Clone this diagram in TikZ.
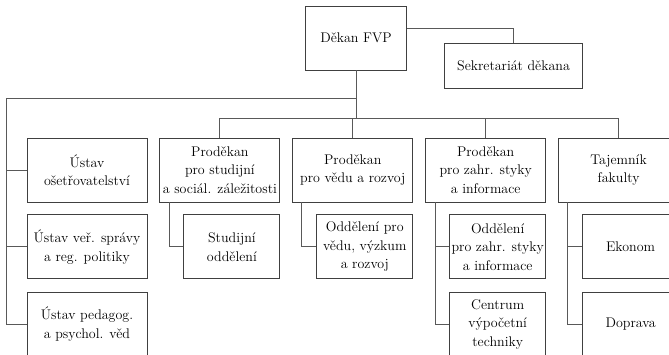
\documentclass[tikz,border=0pt]{standalone}
\usetikzlibrary{positioning}
\tikzset{
    unit/.style = {
        draw = black!75,
        line width = 0.9pt,
        minimum width = 120pt,
        minimum height = 64pt,
        inner sep = 1pt,
        align = center,
        font = \fontsize{14}{18.5}\selectfont,
        },
    subunit/.style = {
        unit,
        minimum width = 96pt,
        },
    link/.style = {
        draw = black!65,
        line width = 0.9pt,
        },
}
\begin{document}
\begin{tikzpicture}[x=1pt, y=-1pt]
            \useasboundingbox (0,0) rectangle (669,355);
            \node[unit, minimum width=101pt] (dekan) at (356,38) {Děkan FVP};
            \node[unit, minimum width=138pt, minimum height=45pt] (sekr) at (513.5,65.8) {Sekretariát děkana};

            \node[unit] (ustavA) at (87,170) {Ústav\\ošetřovatelství};
            \node[unit, right=12pt of ustavA] (prodA) {Proděkan\\pro studijní\\a sociál. záležitosti};
            \node[unit, right=12pt of prodA] (prodB) {Proděkan\\pro vědu a rozvoj};
            \node[unit, right=12pt of prodB] (prodC) {Proděkan\\pro zahr. styky\\a informace};
            \node[unit, right=12pt of prodC] (tajem) {Tajemník\\fakulty};

            \node[unit, below=12pt of ustavA] (ustavB) {Ústav veř. správy\\a reg. politiky};
            \node[unit, below=12.2pt of ustavB] (ustavC) {Ústav pedagog.\\a psychol. věd};
            \node[subunit, below=12pt of prodA.south east, anchor=north east] (studodd) {Studijní\\oddělení};
            \node[subunit, below=12pt of prodB.south east, anchor=north east] (oddved) {Oddělení pro\\vědu, výzkum\\a rozvoj};
            \node[subunit, below=12pt of prodC.south east, anchor=north east] (oddzahr) {Oddělení\\pro zahr. styky\\a informace};
            \node[subunit, below=12.2pt of oddzahr] (centrum) {Centrum\\výpočetní\\techniky};
            \node[subunit, below=12pt of tajem.south east, anchor=north east] (ekonom) {Ekonom};
            \node[subunit, below=12.2pt of ekonom] (doprava) {Doprava};

            \coordinate (bus) at (356,118.3);
            \coordinate (lft) at (6.4,98.3);

            \draw[link] ([yshift=9.7pt]dekan.east) -| (sekr.north);
            \draw[link] (dekan.south) -- (dekan.south |- bus);
            \draw[link] (prodA.north) |- (bus) -| (tajem.north);
            \draw[link] (prodB.north) -- (prodB.north |- bus);
            \draw[link] (prodC.north) -- (prodC.north |- bus);
            \draw[link] (dekan.south |- lft) -- (lft) |- (ustavC.west);
            \draw[link] (ustavA.west) -- (ustavA.west -| lft);
            \draw[link] (ustavB.west) -- (ustavB.west -| lft);
            \draw[link] ([xshift=9.5pt]prodA.south west) |- (studodd.west);
            \draw[link] ([xshift=9.5pt]prodB.south west) |- (oddved.west);
            \draw[link] ([xshift=10pt]prodC.south west) |- (centrum.west);
            \draw[link] (oddzahr.west) -| ([xshift=10pt]prodC.south west);
            \draw[link] ([xshift=9.5pt]tajem.south west) |- (doprava.west);
            \draw[link] (ekonom.west) -| ([xshift=9.5pt]tajem.south west);
        \end{tikzpicture}
\end{document}
